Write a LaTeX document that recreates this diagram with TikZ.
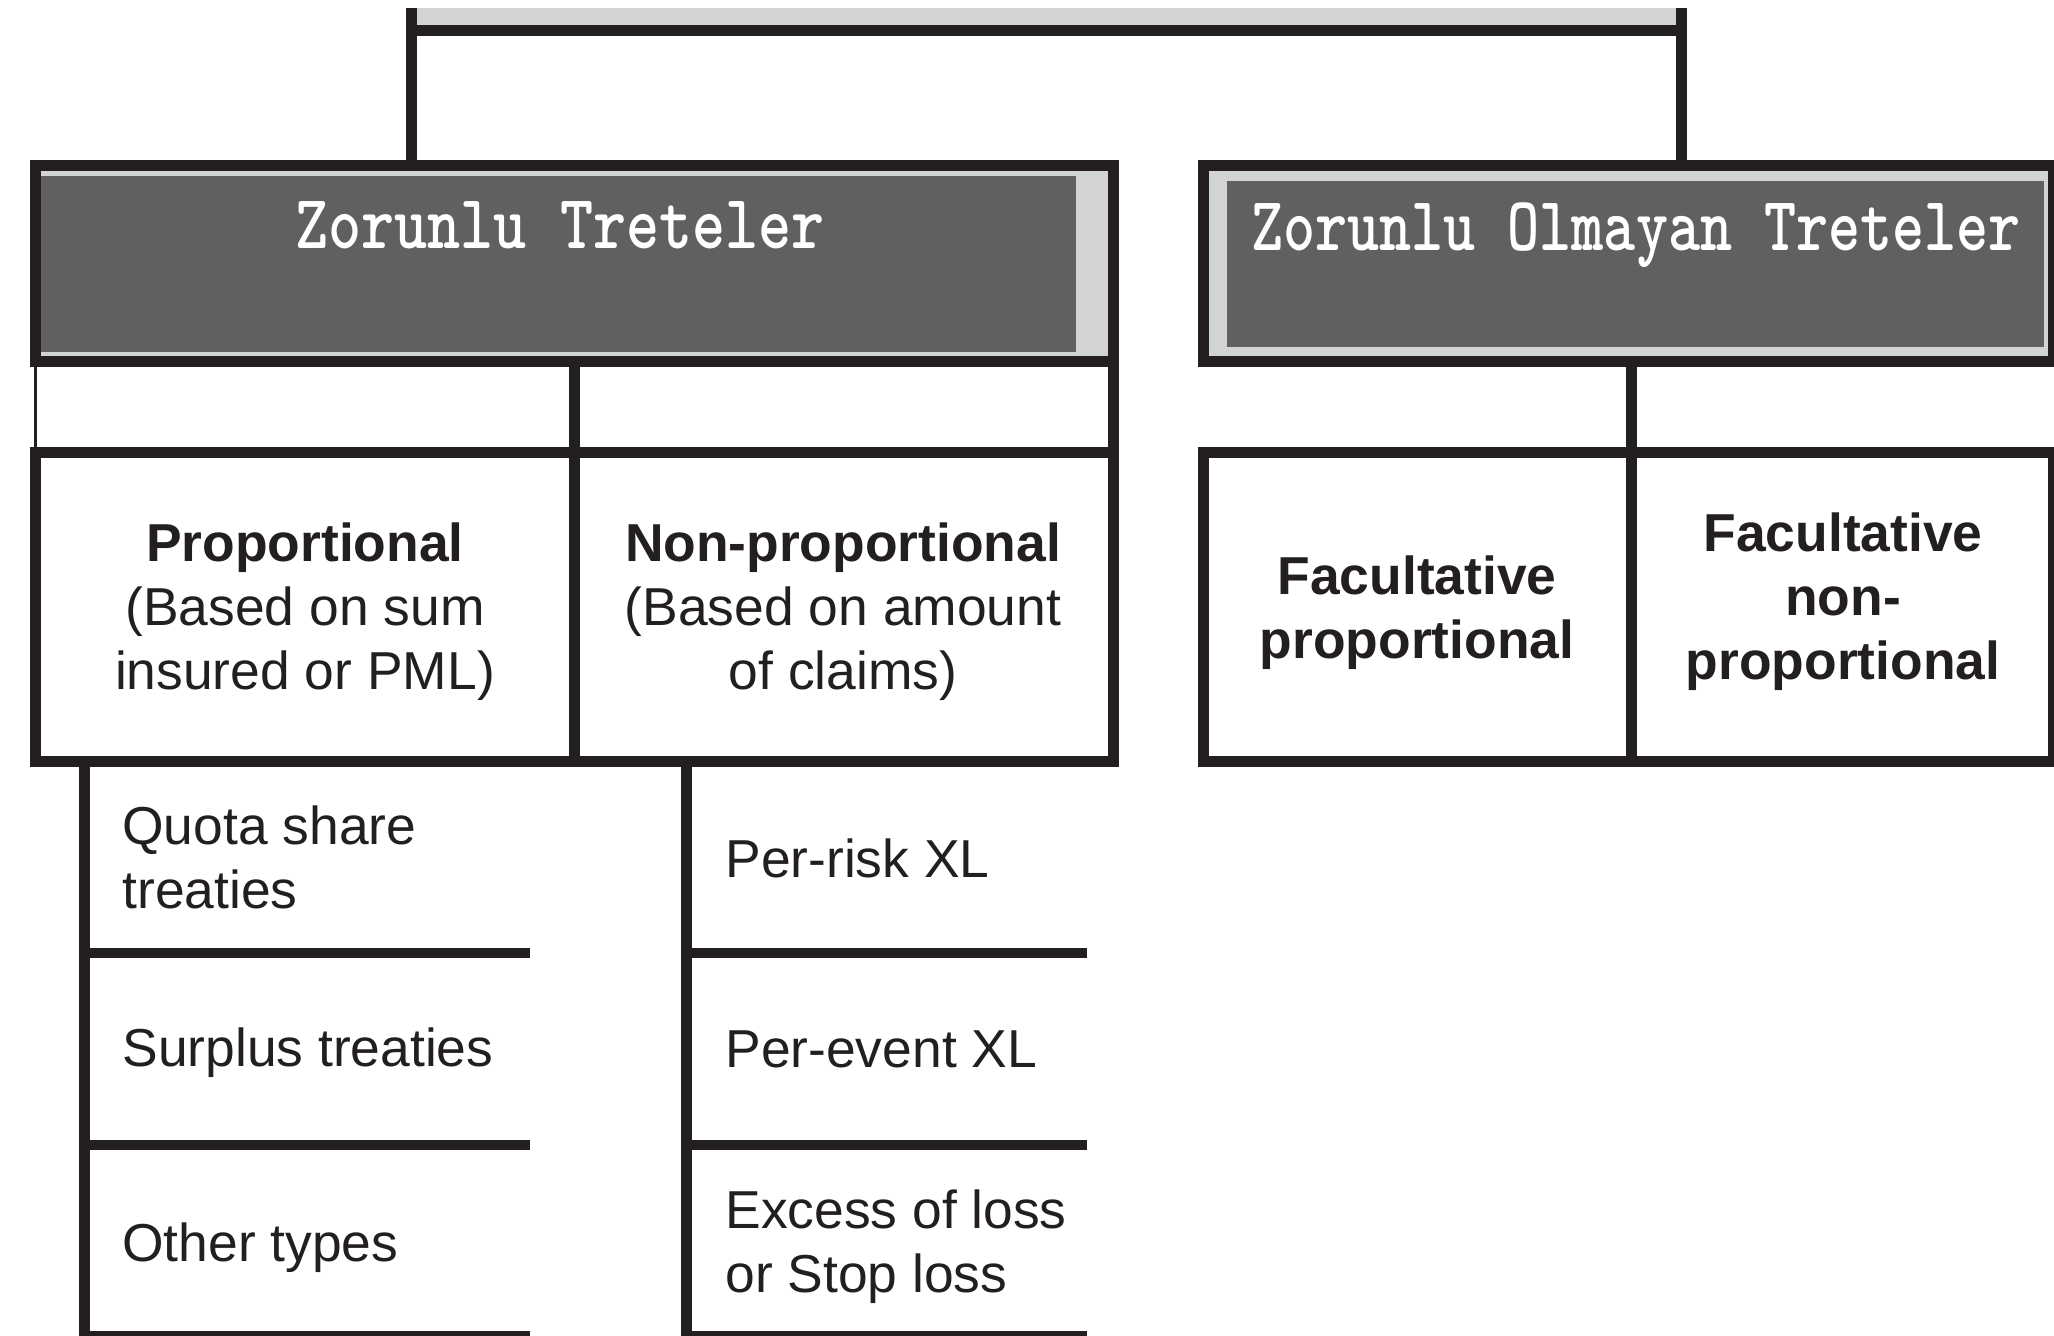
\documentclass[tikz,border=0pt]{standalone}
\usepackage{fontspec}
\setsansfont{Liberation Sans}
\usepackage{graphicx}
\usetikzlibrary{fit}
\definecolor{ink}{HTML}{231F20}
\definecolor{darkfill}{HTML}{606060}
\definecolor{lightfill}{HTML}{D1D3D4}
\begin{document}
\begin{tikzpicture}[x=0.5pt,y=-0.5pt,
  conn/.style={draw=ink, line width=5.5pt},
  thinline/.style={draw=ink, line width=1.5pt},
  sepline/.style={draw=ink, line width=5pt},
  frame/.style={draw=ink, line width=5.5pt, inner sep=0pt, outer sep=0pt},
  titlebox/.style={frame, fill=lightfill},
  darkbox/.style={fill=darkfill, inner sep=0pt, outer sep=0pt},
  cell/.style={frame, fill=white, minimum height=154.25pt},
  ttl/.style={font=\ttfamily\bfseries\fontsize{31.5pt}{31.5pt}\selectfont, text=white, inner sep=0pt, anchor=base},
  txt/.style={font=\sffamily\fontsize{26.7pt}{32pt}\selectfont, text=ink, inner sep=0pt, align=center, anchor=base},
  btxt/.style={txt, font=\sffamily\bfseries\fontsize{26.7pt}{32pt}\selectfont},
  itxt/.style={txt, align=left, anchor=base west}]
\useasboundingbox (0,0) rectangle (2054,1335);
\clip (0,0) rectangle (2054,1335);
\fill[white] (0,0) rectangle (2054,1335);

% root box (only its lower part is visible)
\node[fill=lightfill, inner sep=0pt, outer sep=0pt, minimum width=634.75pt, minimum height=11.25pt] (root) at (1046.25,19.25) {};
\draw[conn] (root.south west) -- (root.south east);

% title boxes
\node[titlebox, minimum width=539pt, minimum height=98.25pt] (zt) at (574.5,263.25) {};
\node[darkbox, fit={(41,176) (1076,352)}] (ztin) {};
\node[ttl] (ztt) at (560,248) {\scalebox{1}[1.22]{Zorunlu Treteler}};

\node[titlebox, minimum width=424.75pt, minimum height=98.25pt] (zot) at (1628.25,263.25) {};
\node[darkbox, fit={(1227,181) (2044,347)}] (zotin) {};
\node[ttl] (zott) at (1636,250) {\scalebox{0.97}[1.22]{Zorunlu Olmayan Treteler}};

% connectors root -> title boxes
\draw[conn] (root.north west) -- (root.north west |- zt.north);
\draw[conn] (root.north east) -- (root.north east |- zot.north);

% second-level cells
\node[cell, minimum width=269.5pt] (prop) at (305,606.75) {};
\node[cell, minimum width=269.5pt] (nonprop) at (844,606.75) {};
\node[cell, minimum width=213.75pt] (facp) at (1417.25,606.75) {};
\node[cell, minimum width=211pt] (facnp) at (1842,606.75) {};

\draw[thinline] (zt.south west) -- (prop.north west);
\draw[conn] (zt.south -| nonprop.north west) -- (nonprop.north west);
\draw[conn] (zt.south east) -- (nonprop.north east);
\draw[conn] (zot.south -| facnp.north west) -- (facnp.north west);

% multi-line nodes: anchor "base" is the baseline of the last line
\node[btxt] (propT) at (305,561.5) {Proportional};
\node[txt] (propS) at (305,689.5) {(Based on sum\\insured or PML)};
\node[btxt] (nonpropT) at (843,561.5) {Non-proportional};
\node[txt] (nonpropS) at (843,689.5) {(Based on amount\\of claims)};
\node[btxt] (facpT) at (1417,658) {Facultative\\proportional};
\node[btxt] (facnpT) at (1843,679) {Facultative\\non-\\proportional};

% lists
\coordinate (lend) at (84,1345);
\coordinate (rend) at (686.5,1345);
\draw[conn] (prop.south -| lend) -- (lend);
\draw[conn] (nonprop.south -| rend) -- (rend);
\foreach \yy in {953,1145,1336} {
  \draw[sepline] (84,\yy) -- (530,\yy);
  \draw[sepline] (686.5,\yy) -- (1087,\yy);
}
\node[itxt] (qs) at (122,908) {Quota share\\treaties};
\node[itxt] (sur) at (122,1066) {Surplus treaties};
\node[itxt] (oth) at (122,1261) {Other types};
\node[itxt] (prx) at (725,877) {Per-risk XL};
\node[itxt] (pex) at (725,1067) {Per-event XL};
\node[itxt] (xol) at (725,1292) {Excess of loss\\or Stop loss};
\end{tikzpicture}
\end{document}
